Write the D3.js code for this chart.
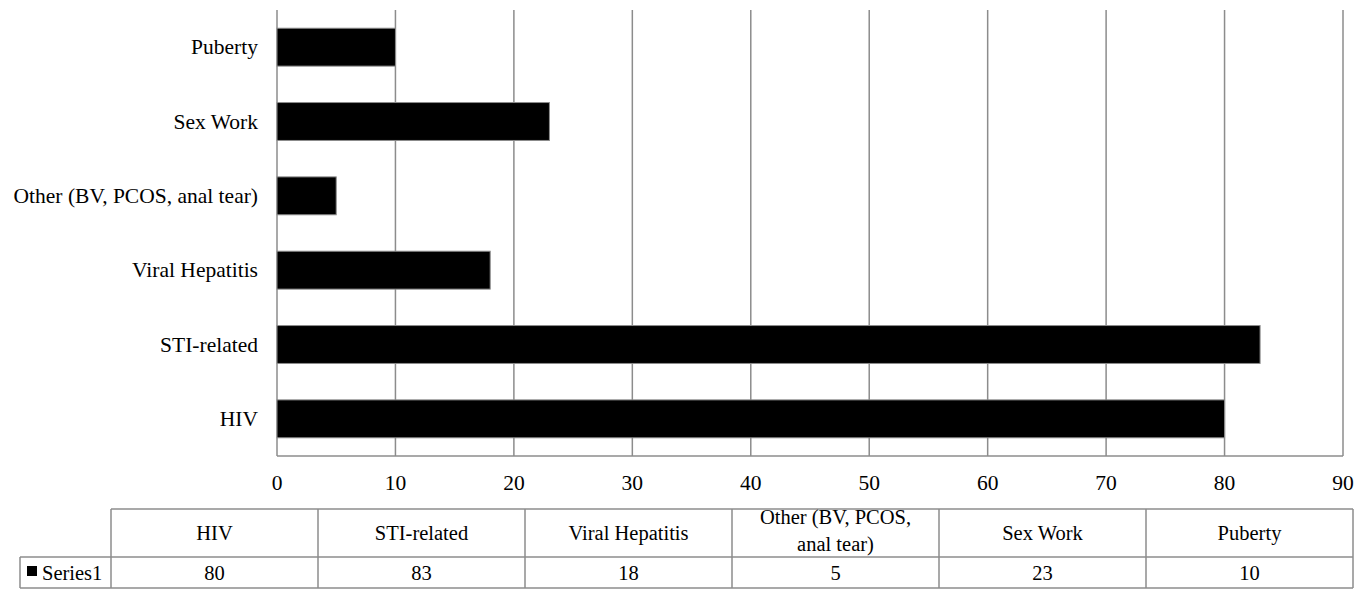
<!DOCTYPE html>
<html>
<head>
<meta charset="utf-8">
<script src="https://cdn.jsdelivr.net/npm/d3@7"></script>
<style>
  html, body { margin: 0; padding: 0; background: #fff; }
  svg { display: block; }
</style>
</head>
<body>
<svg id="chart" width="1368" height="589" font-family="'Liberation Serif', 'Times New Roman', Times, 'DejaVu Serif', serif"></svg>
<script>
// Categories in table order (bottom to top on the chart)
const categories = ["HIV", "STI-related", "Viral Hepatitis", "Other (BV, PCOS, anal tear)", "Sex Work", "Puberty"];
// Header lines in the data table
const tableHeaders = [["HIV"], ["STI-related"], ["Viral Hepatitis"], ["Other (BV, PCOS,", "anal tear)"], ["Sex Work"], ["Puberty"]];
const seriesName = "Series1";
const seriesValues = [80, 83, 18, 5, 23, 10];
const xTicks = [0, 10, 20, 30, 40, 50, 60, 70, 80, 90];

const svg = d3.select("#chart");
const grid = "#8c8c8c";
const serif = "'Liberation Serif', 'Times New Roman', Times, 'DejaVu Serif', serif";

const plot = { left: 277, right: 1343, top: 10, bottom: 456 };

const x = d3.scaleLinear().domain([0, 90]).range([plot.left, plot.right]);
const y = d3.scaleBand()
  .domain(categories.slice().reverse())
  .range([plot.top, plot.bottom])
  .paddingInner(0.49)
  .paddingOuter(0.245);

// Vertical gridlines
svg.append("g")
  .selectAll("line")
  .data(xTicks)
  .join("line")
  .attr("x1", d => x(d)).attr("x2", d => x(d))
  .attr("y1", plot.top).attr("y2", plot.bottom)
  .attr("stroke", grid).attr("stroke-width", 1.5);

// Baseline along the bottom of the plot
svg.append("line")
  .attr("x1", plot.left).attr("x2", plot.right)
  .attr("y1", plot.bottom).attr("y2", plot.bottom)
  .attr("stroke", grid).attr("stroke-width", 1.5);

// Bars
svg.append("g")
  .selectAll("rect")
  .data(categories.map((c, i) => ({ c, v: seriesValues[i] })))
  .join("rect")
  .attr("x", x(0))
  .attr("y", d => y(d.c))
  .attr("width", d => x(d.v) - x(0))
  .attr("height", y.bandwidth())
  .attr("fill", "#000")
  .attr("stroke", grid).attr("stroke-width", 1);

// Category labels
svg.append("g")
  .selectAll("text")
  .data(categories)
  .join("text")
  .attr("font-family", serif)
  .attr("x", plot.left - 19)
  .attr("y", d => y(d) + y.bandwidth() / 2)
  .attr("text-anchor", "end")
  .attr("dominant-baseline", "central")
  .attr("font-size", 21.5)
  .text(d => d);

// Value axis labels
svg.append("g")
  .selectAll("text")
  .data(xTicks)
  .join("text")
  .attr("font-family", serif)
  .attr("x", d => x(d))
  .attr("y", 483)
  .attr("text-anchor", "middle")
  .attr("dominant-baseline", "central")
  .attr("font-size", 21.5)
  .text(d => d);

// Data table
const tbl = { left: 111, right: 1353, top: 509, mid: 557, bottom: 588, keyLeft: 20 };
const col = d3.scaleBand().domain(d3.range(categories.length)).range([tbl.left, tbl.right]);
const tg = svg.append("g").attr("stroke", grid).attr("stroke-width", 1.5);

tg.append("line").attr("x1", tbl.left).attr("x2", tbl.right).attr("y1", tbl.top).attr("y2", tbl.top);
tg.append("line").attr("x1", tbl.keyLeft).attr("x2", tbl.right).attr("y1", tbl.mid).attr("y2", tbl.mid);
tg.append("line").attr("x1", tbl.keyLeft).attr("x2", tbl.right).attr("y1", tbl.bottom).attr("y2", tbl.bottom);
tg.append("line").attr("x1", tbl.keyLeft).attr("x2", tbl.keyLeft).attr("y1", tbl.mid).attr("y2", tbl.bottom);
tg.selectAll("line.col")
  .data(d3.range(categories.length + 1))
  .join("line")
  .attr("class", "col")
  .attr("x1", i => tbl.left + i * col.bandwidth())
  .attr("x2", i => tbl.left + i * col.bandwidth())
  .attr("y1", tbl.top).attr("y2", tbl.bottom);

// Header text
const hdr = svg.append("g");
tableHeaders.forEach((lines, i) => {
  const cx = col(i) + col.bandwidth() / 2;
  const cy = (tbl.top + tbl.mid) / 2 - (lines.length > 1 ? 3 : 0);
  const lh = 27;
  lines.forEach((ln, j) => {
    hdr.append("text")
      .attr("font-family", serif)
      .attr("x", cx)
      .attr("y", cy + (j - (lines.length - 1) / 2) * lh)
      .attr("text-anchor", "middle")
      .attr("dominant-baseline", "central")
      .attr("font-size", 20.5)
      .text(ln);
  });
});

// Value row
svg.append("g")
  .selectAll("text")
  .data(seriesValues)
  .join("text")
  .attr("font-family", serif)
  .attr("x", (d, i) => col(i) + col.bandwidth() / 2)
  .attr("y", (tbl.mid + tbl.bottom) / 2)
  .attr("text-anchor", "middle")
  .attr("dominant-baseline", "central")
  .attr("font-size", 20.5)
  .text(d => d);

// Legend key in the table
svg.append("rect")
  .attr("x", 27).attr("y", 566).attr("width", 10).attr("height", 10)
  .attr("fill", "#000");
svg.append("text")
  .attr("font-family", serif)
  .attr("x", 42)
  .attr("y", (tbl.mid + tbl.bottom) / 2)
  .attr("dominant-baseline", "central")
  .attr("font-size", 20.5)
  .text(seriesName);
</script>
</body>
</html>
